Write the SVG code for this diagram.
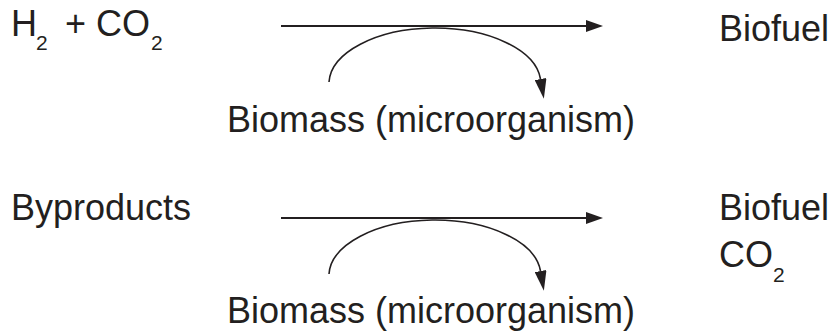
<svg xmlns="http://www.w3.org/2000/svg" width="836" height="333" viewBox="0 0 836 333">
<defs>
<style>
text{font-family:"Liberation Sans",Arial,sans-serif;font-size:36px;fill:#231f20}
.sub{font-size:21px}
.main{stroke:#231f20;stroke-width:2.2;fill:none}
.arc{stroke:#231f20;stroke-width:1.6;fill:none}
</style>
<marker id="hm" viewBox="0 0 17 12" refX="0" refY="6" markerWidth="17" markerHeight="12" markerUnits="userSpaceOnUse" orient="auto">
<path d="M0,0 L17,6 L0,12 Z" fill="#231f20"/>
</marker>
<marker id="ha" viewBox="0 0 20 12" refX="0" refY="6" markerWidth="20" markerHeight="12" markerUnits="userSpaceOnUse" orient="auto">
<path d="M0,0 L20,6 L0,12 Z" fill="#231f20"/>
</marker>
</defs>
<g id="r1-reactants"><text x="11" y="36">H<tspan class="sub" x="36" y="50">2</tspan><tspan x="65" y="36">+ CO</tspan><tspan class="sub" x="151" y="50">2</tspan></text></g>
<g id="r1-product"><text x="719" y="41">Biofuel</text></g>
<g id="r1-biomass"><text x="227" y="132">Biomass (microorganism)</text></g>
<g id="r2-reactants"><text x="11" y="220">Byproducts</text></g>
<g id="r2-product"><text x="719" y="220">Biofuel</text><text x="719" y="267">CO<tspan class="sub" y="282">2</tspan></text></g>
<g id="r2-biomass"><text x="227" y="323">Biomass (microorganism)</text></g>
<g id="connectors">
<g>
<path class="main" d="M281,26 H586" marker-end="url(#hm)"/>
<path class="arc" d="M329,82 A106,56 0 0 1 540.5,79" marker-end="url(#ha)"/>
</g>
<g transform="translate(0,192)">
<path class="main" d="M281,26 H586" marker-end="url(#hm)"/>
<path class="arc" d="M329,82 A106,56 0 0 1 540.5,79" marker-end="url(#ha)"/>
</g>
</g>
</svg>
